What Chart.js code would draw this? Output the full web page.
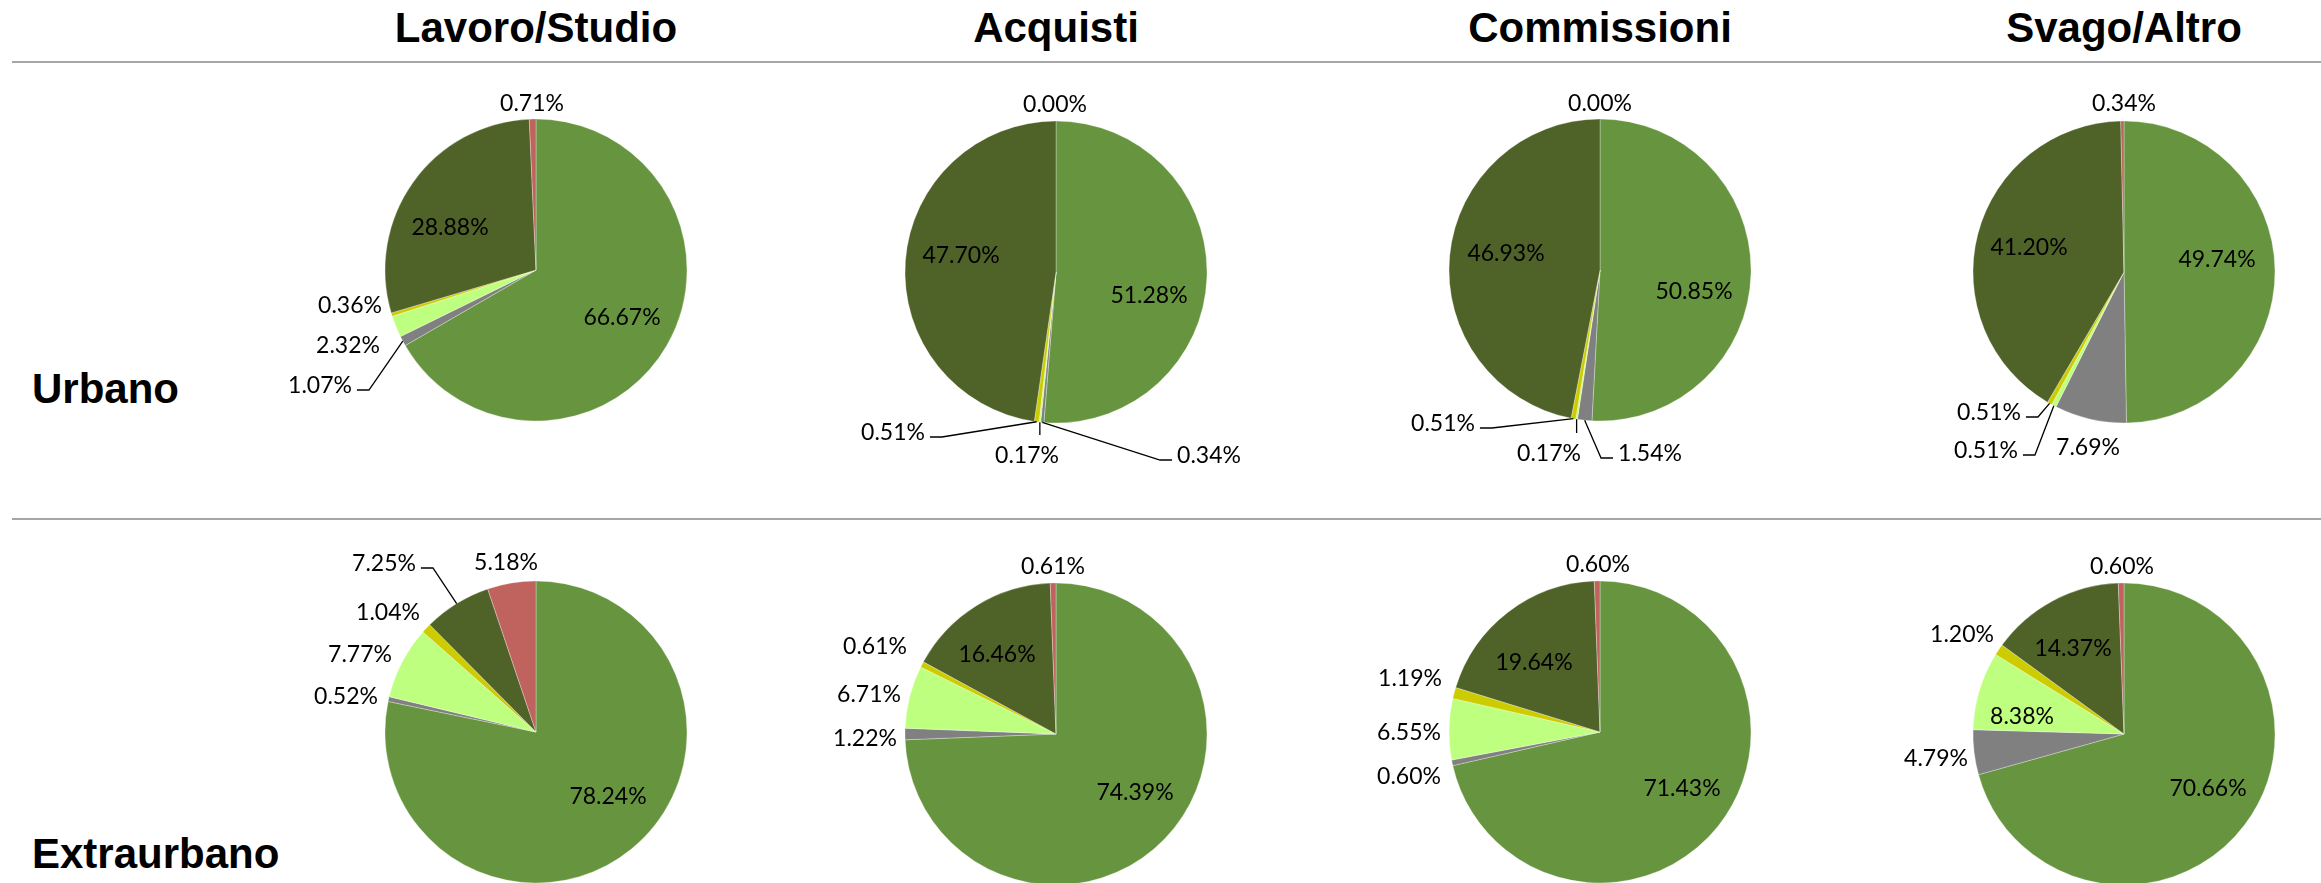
<!DOCTYPE html>
<html lang="it">
<head>
<meta charset="utf-8">
<title>Ripartizione modale per motivo</title>
<script src="https://cdn.jsdelivr.net/npm/chart.js@4.4.1/dist/chart.umd.min.js"></script>
<style>
    html, body { margin: 0; padding: 0; background: #ffffff; }
    body {
        width: 2321px;
        height: 883px;
        overflow: hidden;
        position: relative;
        font-family: "Liberation Sans", Arial, sans-serif;
    }
    .col-title, .row-title {
        position: absolute;
        font-weight: bold;
        font-size: 42px;
        line-height: 42px;
        white-space: nowrap;
        color: #000000;
    }
    .col-title { transform: translateX(-50%); }
    .rule {
        position: absolute;
        left: 12px;
        right: 0;
        height: 2px;
        background: #a6a6a6;
    }
    canvas { position: absolute; }
</style>
</head>
<body>
<script>
// Column and row headings
const columns = ['Lavoro/Studio', 'Acquisti', 'Commissioni', 'Svago/Altro'];
const rows = ['Urbano', 'Extraurbano'];

// Slice order (clockwise from 12 o'clock) - no legend in the original
const slices = ['Verde', 'Grigio', 'Verde chiaro', 'Giallo', 'Verde scuro', 'Rosso'];

// Percent shares, urban trips
const urbanoLavoro = [66.67, 1.07, 2.32, 0.36, 28.88, 0.71];
const urbanoAcquisti = [51.28, 0.34, 0.17, 0.51, 47.70, 0.00];
const urbanoCommissioni = [50.85, 1.54, 0.17, 0.51, 46.93, 0.00];
const urbanoSvago = [49.74, 7.69, 0.51, 0.51, 41.20, 0.34];

// Percent shares, extra-urban trips
const extraLavoro = [78.24, 0.52, 7.77, 1.04, 7.25, 5.18];
const extraAcquisti = [74.39, 1.22, 6.71, 0.61, 16.46, 0.61];
const extraCommissioni = [71.43, 0.60, 6.55, 1.19, 19.64, 0.60];
const extraSvago = [70.66, 4.79, 8.38, 1.20, 14.37, 0.60];

const series = [
    [urbanoLavoro, urbanoAcquisti, urbanoCommissioni, urbanoSvago],
    [extraLavoro, extraAcquisti, extraCommissioni, extraSvago]
];

const sliceColors = ['#67953f', '#808080', '#bfff80', '#cccc00', '#4f6228', '#c0625e'];

// Layout: pie centres, header baselines, label offsets from the pie centre
const pieRadius = 151;
const pieCenterX = [536, 1056, 1600, 2124];
const pieCenterY = [[270, 272, 270, 272], [732, 734, 732, 734]];
const rowBaseline = [404, 869];
const ruleY = [61, 518];

// [dx, dy, leader]  leader: 0 none, 'h' elbow to label side, 'v' straight down
const labelLayout = [
    [
        [[86, 47, 0], [-216, 115, 'h'], [-188, 75, 0], [-186, 35, 0], [-86, -43, 0], [-4, -167, 0]],
        [[93, 23, 0], [153, 183, 'h'], [-29, 183, 'v'], [-163, 160, 'h'], [-95, -17, 0], [-1, -168, 0]],
        [[94, 21, 0], [50, 183, 'h'], [-51, 183, 'v'], [-157, 153, 'h'], [-94, -17, 0], [0, -167, 0]],
        [[93, -13, 0], [-36, 175, 0], [-138, 178, 'h'], [-135, 140, 'h'], [-95, -25, 0], [0, -169, 0]]
    ],
    [
        [[72, 64, 0], [-190, -36, 0], [-176, -78, 0], [-148, -120, 0], [-152, -169, 'h'], [-30, -170, 0]],
        [[79, 58, 0], [-191, 4, 0], [-187, -40, 0], [-181, -88, 0], [-59, -80, 0], [-3, -168, 0]],
        [[82, 56, 0], [-191, 44, 0], [-191, 0, 0], [-190, -54, 0], [-66, -70, 0], [-2, -168, 0]],
        [[84, 54, 0], [-188, 24, 0], [-102, -18, 0], [-162, -100, 0], [-51, -86, 0], [-2, -168, 0]]
    ]
];

// Percentage labels with Excel-like leader lines
const pieLabels = {
    id: 'pieLabels',
    afterDatasetsDraw(chart, args, opts) {
        const ctx = chart.ctx;
        const meta = chart.getDatasetMeta(0);
        const values = chart.data.datasets[0].data;
        ctx.save();
        ctx.font = '23px Lato, "Open Sans", sans-serif';
        ctx.fillStyle = '#000000';
        ctx.strokeStyle = '#000000';
        ctx.lineWidth = 1.3;
        meta.data.forEach((arc, i) => {
            const [dx, dy, leader] = opts.pos[i];
            const text = values[i].toFixed(2) + '%';
            const w = ctx.measureText(text).width;
            const lx = arc.x + dx;
            const ly = arc.y + dy;
            if (leader) {
                const mid = (arc.startAngle + arc.endAngle) / 2;
                const ax = arc.x + arc.outerRadius * Math.cos(mid);
                const ay = arc.y + arc.outerRadius * Math.sin(mid);
                ctx.beginPath();
                ctx.moveTo(ax, ay);
                if (leader === 'v') {
                    ctx.lineTo(ax, ly - 20);
                } else {
                    const side = ax > lx ? 1 : -1;
                    const edge = lx + side * w / 2;
                    ctx.lineTo(edge + side * 17, ly + 5);
                    ctx.lineTo(edge + side * 5, ly + 5);
                }
                ctx.stroke();
            }
            ctx.textAlign = 'center';
            ctx.textBaseline = 'alphabetic';
            ctx.fillText(text, lx, ly + 8);
        });
        ctx.restore();
    }
};

function addText(cls, text, left, top) {
    const el = document.createElement('div');
    el.className = cls;
    el.textContent = text;
    el.style.left = left + 'px';
    el.style.top = top + 'px';
    document.body.appendChild(el);
}

function buildPage() {
    // Liberation Sans 42px with 42px line-height: baseline sits ~35.6px below top
    columns.forEach((col, c) => addText('col-title', col, pieCenterX[c], 43 - 35.6));
    rows.forEach((row, r) => addText('row-title', row, 32, rowBaseline[r] - 35.6));

    ruleY.forEach(y => {
        const line = document.createElement('div');
        line.className = 'rule';
        line.style.top = y + 'px';
        document.body.appendChild(line);
    });

    const W = 520, H = 420;
    rows.forEach((row, r) => {
        columns.forEach((col, c) => {
            const canvas = document.createElement('canvas');
            canvas.width = W;
            canvas.height = H;
            canvas.style.left = (pieCenterX[c] - W / 2) + 'px';
            canvas.style.top = (pieCenterY[r][c] - H / 2) + 'px';
            document.body.appendChild(canvas);

            new Chart(canvas, {
                type: 'pie',
                data: {
                    labels: slices,
                    datasets: [{
                        data: series[r][c],
                        backgroundColor: sliceColors,
                        borderColor: 'rgba(255, 255, 255, 0.6)',
                        borderWidth: 0.5
                    }]
                },
                options: {
                    responsive: false,
                    animation: false,
                    events: [],
                    radius: pieRadius,
                    layout: { padding: 0 },
                    plugins: {
                        legend: { display: false },
                        tooltip: { enabled: false },
                        pieLabels: { pos: labelLayout[r][c] }
                    }
                },
                plugins: [pieLabels]
            });
        });
    });
}

if (typeof Chart !== 'undefined') {
    const ready = document.fonts ? document.fonts.load('23px Lato') : Promise.resolve();
    ready.then(buildPage, buildPage);
} else {
    console.error('Chart.js not loaded');
}
</script>
</body>
</html>
